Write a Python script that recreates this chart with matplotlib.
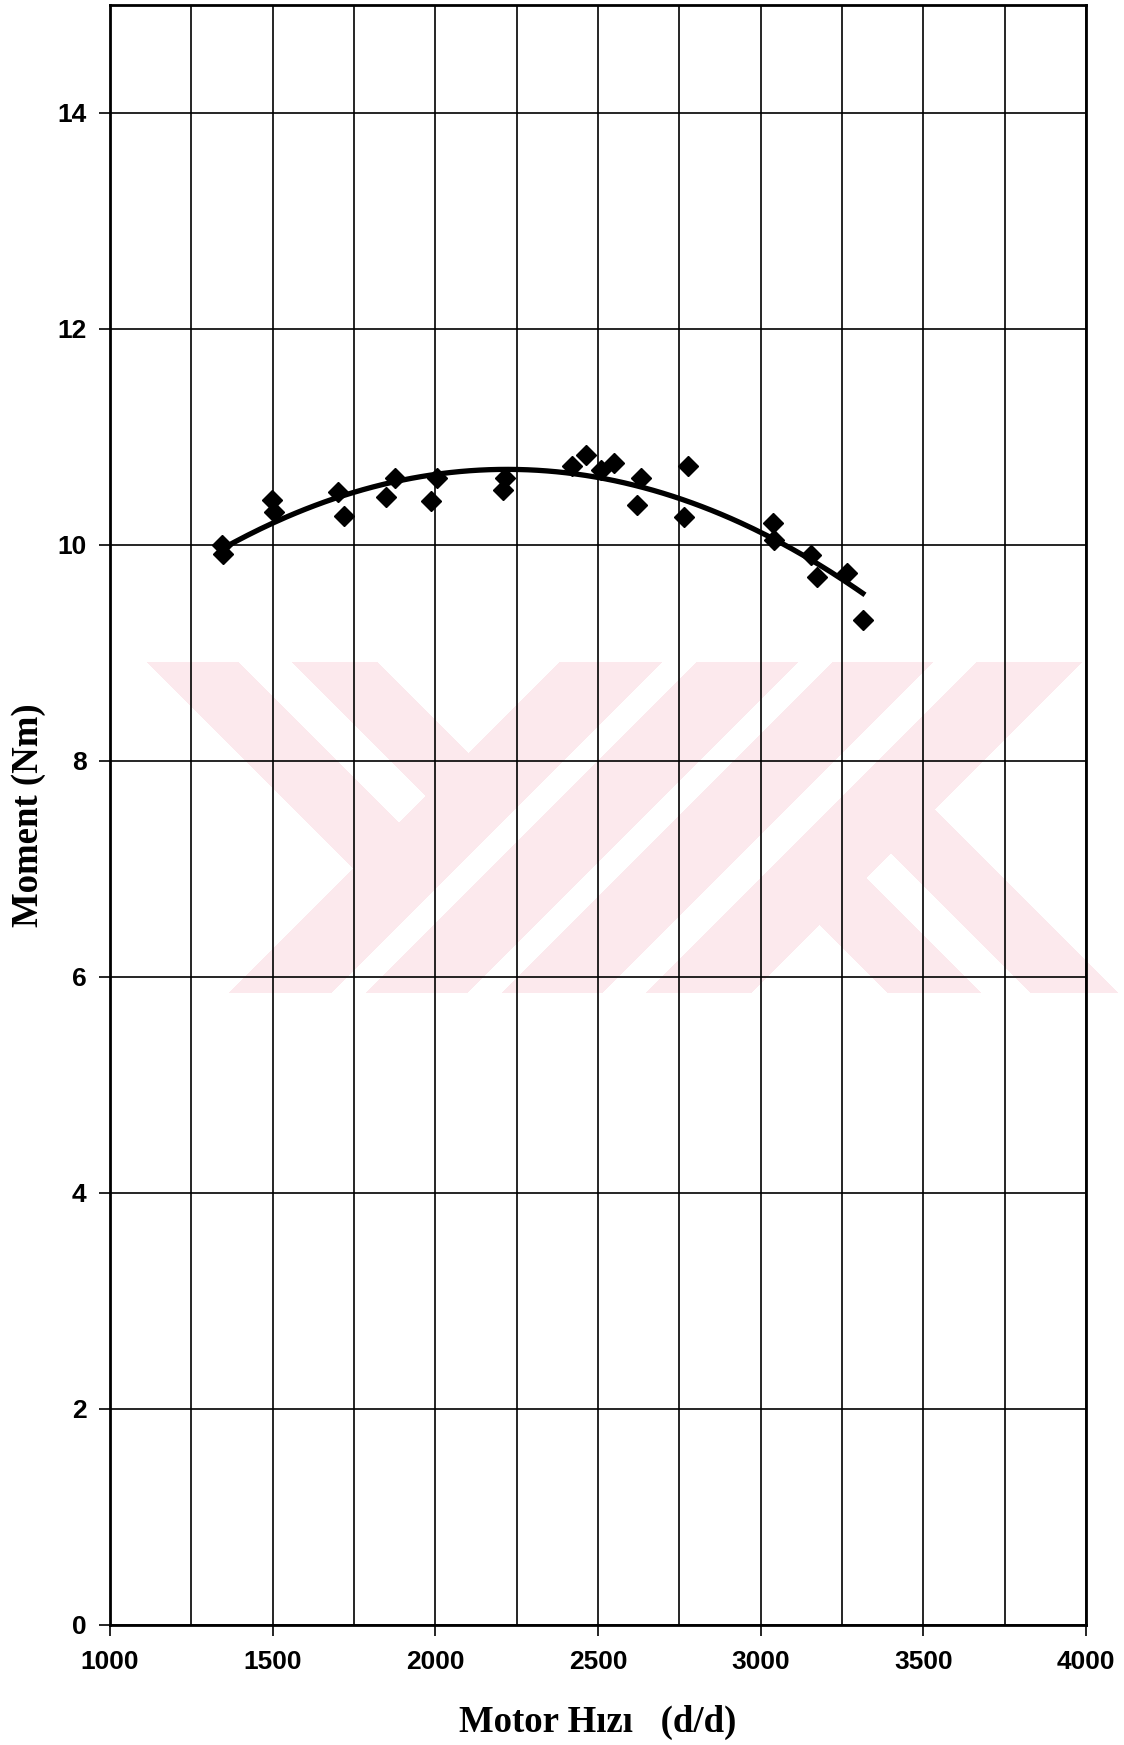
import numpy as np
import matplotlib
matplotlib.use("Agg")
import matplotlib.pyplot as plt

# measured torque vs engine speed
rpm = [1343, 1346, 1497, 1504, 1702, 1719, 1849, 1876, 1986, 2005,
       2208, 2213, 2419, 2462, 2508, 2549, 2619, 2633, 2764, 2777,
       3037, 3042, 3155, 3173, 3266, 3314]
moment = [10.00, 9.92, 10.42, 10.31, 10.49, 10.27, 10.44, 10.62, 10.41, 10.62,
          10.51, 10.62, 10.73, 10.83, 10.69, 10.76, 10.37, 10.62, 10.26, 10.73,
          10.20, 10.05, 9.91, 9.70, 9.74, 9.31]

x_ticks = [1000, 1500, 2000, 2500, 3000, 3500, 4000]
y_ticks = [0, 2, 4, 6, 8, 10, 12, 14]

plt.rcParams['font.family'] = ['Liberation Sans', 'DejaVu Sans']
plt.rcParams['font.weight'] = 'bold'

W, H = 1124, 1745
fig = plt.figure(figsize=(W / 100, H / 100), dpi=100)
fig.patch.set_facecolor('white')

# pale background logo (stripes at 45 degrees), in pixel space
yy, xx = np.mgrid[0:H, 0:W] + 0.5
u = xx + yy
v = xx - yy
rows = (yy >= 662) & (yy <= 993)
left_arm = (u < 1222) & (((v >= -515) & (v <= -424)) | ((v >= -370) & (v <= -285)))
slashes = (((u >= 1222) & (u <= 1324)) | ((u >= 1359) & (u <= 1460)) |
           ((u >= 1495) & (u <= 1595)) | ((u >= 1639) & (u <= 1744)))
k_arm = (u > 1744) & (((v >= -105) & (v <= -12)) | ((v >= 38) & (v <= 125)))
mask = rows & (left_arm | slashes | k_arm)
logo = np.zeros((H, W, 4))
logo[mask] = [252 / 255, 233 / 255, 237 / 255, 1.0]
fig.figimage(logo, xo=0, yo=0, origin='upper', zorder=-1)

ax = fig.add_axes([110 / W, 1 - 1625 / H, (1086 - 110) / W, (1625 - 5) / H])
ax.set_facecolor('none')

# second order trend line through the measurements
coef = np.polyfit(rpm, moment, 2)
xs = np.linspace(min(rpm), max(rpm), 200)
ax.plot(rpm, moment, linestyle='none', marker='D', ms=10,
        mfc='black', mec='black', zorder=3)
ax.plot(xs, np.polyval(coef, xs), color='black', lw=3.8, zorder=4)

ax.set_xlim(1000, 4000)
ax.set_ylim(0, 15)
ax.set_xticks(x_ticks)
ax.set_xticks(np.arange(1000, 4001, 250), minor=True)
ax.set_yticks(y_ticks)
ax.set_xticklabels([str(t) for t in x_ticks])
ax.set_yticklabels([str(t) for t in y_ticks])
ax.grid(which='both', axis='x', color='black', lw=1.2)
ax.grid(which='major', axis='y', color='black', lw=1.2)
ax.set_axisbelow(True)
ax.tick_params(which='major', direction='out', length=8, width=1.2,
               labelsize=19, colors='black')
ax.tick_params(axis='x', pad=10)
ax.tick_params(axis='y', pad=9)
ax.tick_params(which='minor', length=0)
for s in ax.spines.values():
    s.set_linewidth(2)
    s.set_color('black')

fig.text(598 / W, (H - 1732) / H, 'Motor Hızı   (d/d)', ha='center', va='baseline',
         fontsize=26.5, fontweight='bold', family=['Liberation Serif', 'DejaVu Serif'])
fig.text(38 / W, (H - 815) / H, 'Moment (Nm)', ha='center', va='baseline',
         rotation=90, rotation_mode='anchor',
         fontsize=26.5, fontweight='bold', family=['Liberation Serif', 'DejaVu Serif'])

fig.savefig('out.png', dpi=100)
